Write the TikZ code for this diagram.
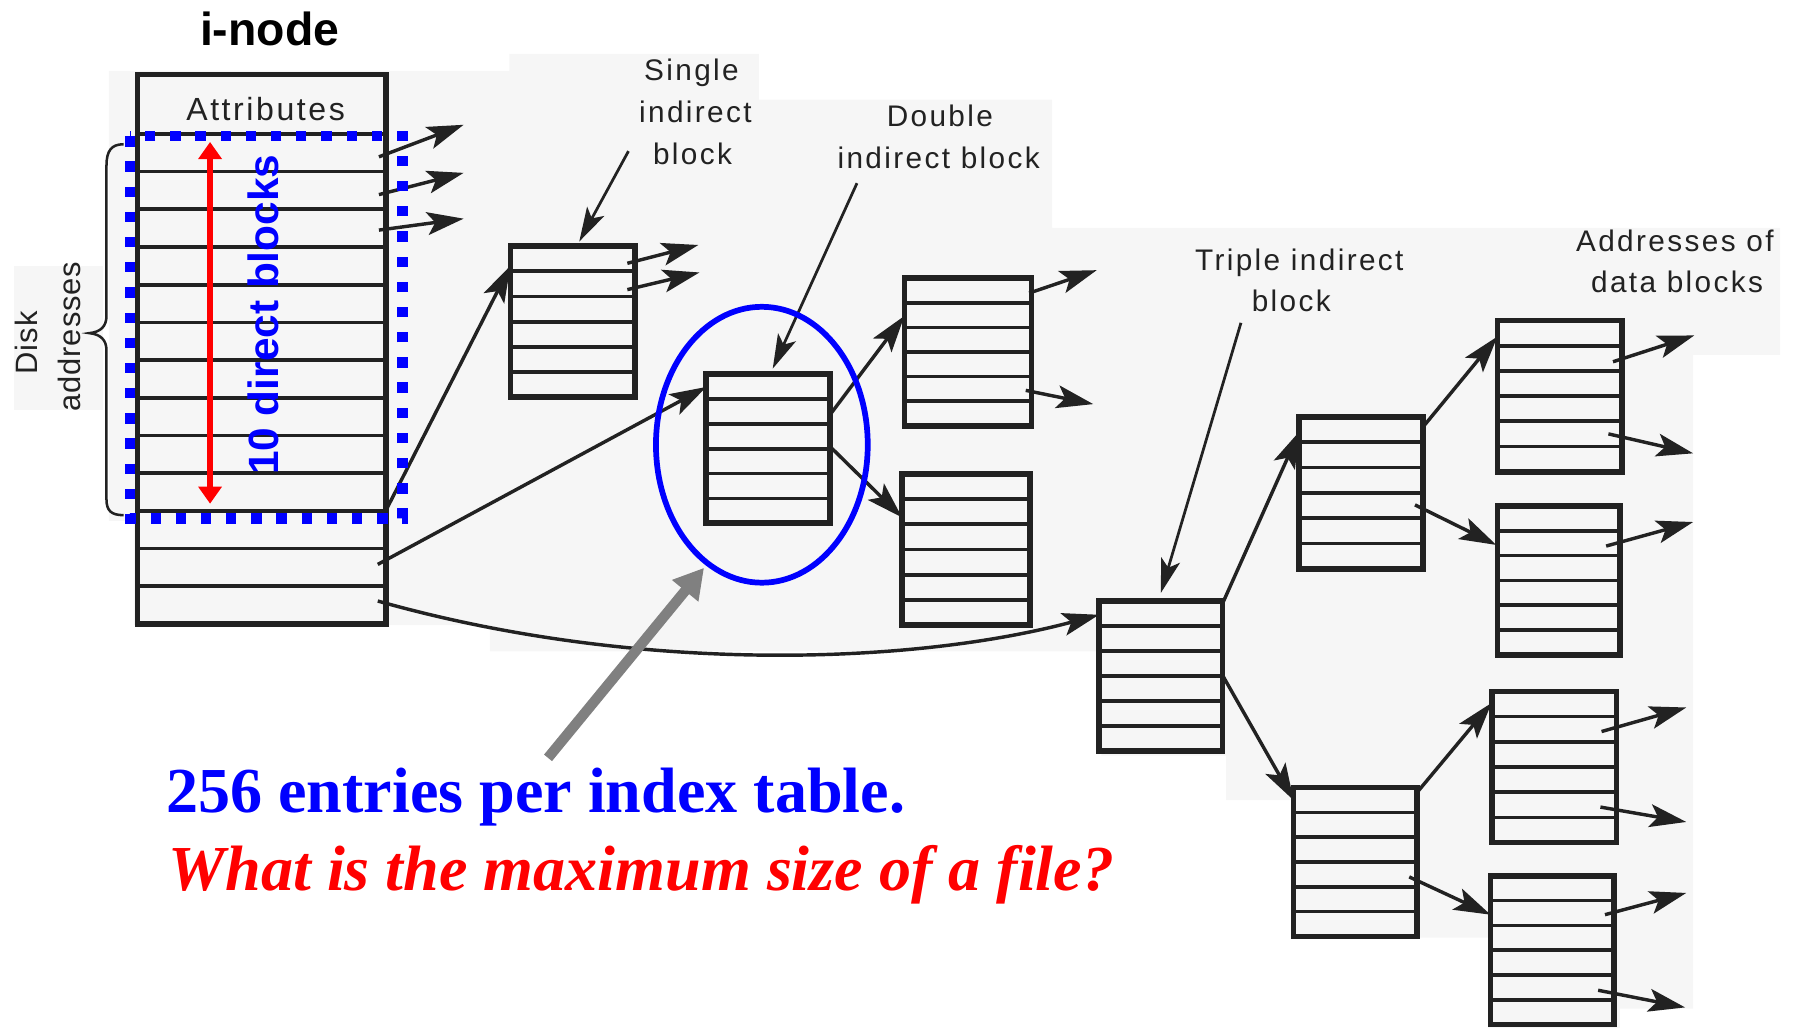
\documentclass[tikz,border=0pt]{standalone}
\usepackage{fontspec}
\setmainfont{Liberation Sans}
\newfontfamily\scanfont{Liberation Sans}[LetterSpace=8]
\newfontfamily\scanfontn{Liberation Sans}[LetterSpace=3]
\newfontfamily\tnr{Liberation Serif}
\usetikzlibrary{arrows.meta,shapes.geometric,calc}
\definecolor{ink}{HTML}{222222}
\definecolor{paper}{HTML}{F6F6F6}
\definecolor{pblue}{HTML}{0000FF}
\definecolor{pred}{HTML}{FF0000}
\definecolor{pgray}{HTML}{808080}
\tikzset{
  rowline/.style={draw=ink, line width=3.2pt},
  rows6/.style={path picture={\foreach \k in {1,...,5}{\draw[rowline] ($(path picture bounding box.north west)!\k/6!(path picture bounding box.south west)$) -- ($(path picture bounding box.north east)!\k/6!(path picture bounding box.south east)$);}}},
  blk/.style={draw=ink, line width=5pt, inner sep=0pt, outer sep=0pt, rows6},
  conn/.style={draw=ink, line width=3pt, -{Stealth[length=32pt,width=20pt,inset=7pt]}},
  lblarr/.style={draw=ink, line width=2.4pt, -{Stealth[length=30pt,width=17pt,inset=7pt]}},
  lbl/.style={font=\scanfont\fontsize{26}{30}\selectfont, text=ink, anchor=base, inner sep=0pt},
}
\begin{document}
\begin{tikzpicture}[x=1pt,y=-1pt]
\useasboundingbox (0,0) rectangle (1568,898);
% scanned paper background
\fill[paper] (95,62) -- (445,62) -- (445,47) -- (663,47) -- (663,87) -- (919,87) -- (919,199) -- (1555,199) -- (1555,310) -- (1479,310) -- (1479,881) -- (1415,881) -- (1415,898) -- (1300,898) -- (1300,819) -- (1129,819) -- (1129,699) -- (1071,699) -- (1071,660) -- (962,660) -- (962,569) -- (428,569) -- (428,546) -- (117,546) -- (117,455) -- (95,455) -- cycle;
\fill[paper] (12,232) rectangle (90,358);

% i-node
\node[font=\bfseries\fontsize{40.5}{44}\selectfont, anchor=base, inner sep=0pt] (title) at (235.5,40) {i-node};
\node[draw=ink, line width=4.8pt, inner sep=0pt, outer sep=0pt, minimum width=217pt, minimum height=480pt] (inode) at (228.5,305) {};
\foreach \k in {0,...,12}{\draw[rowline] ($(inode.north west)+(0,{52+32.92*\k})$) -- ($(inode.north east)+(0,{52+32.92*\k})$);}
\node[lbl, font=\scanfont\fontsize{28}{30}\selectfont] (attr) at (232,105.6) {Attributes};

% brace and disk addresses
\draw[ink, line width=2.2pt] (108,126) .. controls (97,126) and (93,132) .. (93,145) -- (93,276) .. controls (93,285) and (88,290) .. (78,291) .. controls (88,292) and (93,297) .. (93,306) -- (93,436) .. controls (93,446) and (97,450) .. (108,450);
\node[lbl, rotate=90, font=\scanfontn\fontsize{27}{30}\selectfont] (disk) at (33,299.5) {Disk};
\node[lbl, rotate=90, font=\scanfontn\fontsize{27}{30}\selectfont] (addr) at (70,294) {addresses};

% blocks
\node[blk, minimum width=109pt, minimum height=132pt] (sib) at (500.5,281) {};
\node[blk, minimum width=108pt, minimum height=130pt] (dib) at (671,392) {};
\node[blk, minimum width=111pt, minimum height=129pt] (d1) at (845.5,307.5) {};
\node[blk, minimum width=112pt, minimum height=132pt] (d2) at (844,480) {};
\node[blk, minimum width=108pt, minimum height=131pt] (tib) at (1014,590.5) {};
\node[blk, minimum width=108pt, minimum height=133pt] (t1) at (1189,430.5) {};
\node[blk, minimum width=108pt, minimum height=130pt] (t2) at (1184,753) {};
\node[blk, minimum width=109pt, minimum height=132pt] (ba) at (1362.5,346) {};
\node[blk, minimum width=107pt, minimum height=130pt] (bb) at (1361.5,507) {};
\node[blk, minimum width=109pt, minimum height=132pt] (bc) at (1357.5,670) {};
\node[blk, minimum width=108pt, minimum height=130pt] (bd) at (1356,830) {};

% labels
\node[lbl] (ls1) at (604,70) {Single};
\node[lbl] (ls2) at (607.5,107) {indirect};
\node[lbl] (ls3) at (605,144) {block};
\node[lbl] (ld1) at (821,110.7) {Double};
\node[lbl] (ld2) at (820,147) {indirect block};
\node[lbl] (lt1) at (1135,236) {Triple indirect};
\node[lbl] (lt2) at (1128,272) {block};
\node[lbl] (la1) at (1463,220) {Addresses of};
\node[lbl] (la2) at (1465,255.7) {data blocks};

% coordinates for connector ends
\coordinate (i1) at (331,137); \coordinate (e1) at (405,109);
\coordinate (i2) at (331,170); \coordinate (e2) at (405,151);
\coordinate (i3) at (331,201); \coordinate (e3) at (405,191);
\coordinate (i11) at (335,450); \coordinate (sibin) at (446,232);
\coordinate (i12) at (330,493); \coordinate (dibin) at (617,338);
\coordinate (i13) at (330,525); \coordinate (tibin) at (960,537);
\coordinate (so1) at (548,230); \coordinate (se1) at (610,214);
\coordinate (so2) at (548,253); \coordinate (se2) at (611,238);
\coordinate (lsa) at (549,132); \coordinate (sibtop) at (506,211);
\coordinate (lda) at (748.6,160); \coordinate (dibtop) at (675,322);
\coordinate (do1) at (726,361); \coordinate (d1in) at (790,276);
\coordinate (do2) at (725,390); \coordinate (d2in) at (788,452);
\coordinate (d1o1) at (899,256); \coordinate (d1e1) at (958,236);
\coordinate (d1o2) at (896,341); \coordinate (d1e2) at (955,353);
\coordinate (lta) at (1084,282); \coordinate (tibtop) at (1014,518);
\coordinate (to1) at (1068,527); \coordinate (t1in) at (1135,377);
\coordinate (to2) at (1068,590); \coordinate (t2in) at (1130,699);
\coordinate (t1o1) at (1243,373); \coordinate (bain) at (1308,294);
\coordinate (t1o2) at (1236,441); \coordinate (bbin) at (1307,476);
\coordinate (t2o1) at (1238,692); \coordinate (bcin) at (1303,614);
\coordinate (t2o2) at (1231,766); \coordinate (bdin) at (1302,799);
\coordinate (ao1) at (1409,316); \coordinate (ae1) at (1480,293);
\coordinate (ao2) at (1405,379); \coordinate (ae2) at (1479,396);
\coordinate (bo1) at (1403,477); \coordinate (be1) at (1479,456);
\coordinate (co1) at (1399,639); \coordinate (ce1) at (1473,618);
\coordinate (co2) at (1398,705); \coordinate (ce2) at (1473,718);
\coordinate (dd1) at (1402,799); \coordinate (de1) at (1473,780);
\coordinate (dd2) at (1396,865); \coordinate (de2) at (1472,880);

% connectors
\draw[conn] (i1) -- (e1);
\draw[conn] (i2) -- (e2);
\draw[conn] (i3) -- (e3);
\draw[conn] (i11) -- (sibin);
\draw[conn] (i12) -- (dibin);
\draw[conn] (i13) .. controls (560,590) and (800,580) .. (tibin);
\draw[conn] (so1) -- (se1);
\draw[conn] (so2) -- (se2);
\draw[lblarr] (lsa) -- (sibtop);
\draw[lblarr] (lda) -- (dibtop);
\draw[conn] (do1) -- (d1in);
\draw[conn] (do2) -- (d2in);
\draw[conn] (d1o1) -- (d1e1);
\draw[conn] (d1o2) -- (d1e2);
\draw[lblarr] (lta) -- (tibtop);
\draw[conn] (to1) -- (t1in);
\draw[conn] (to2) -- (t2in);
\draw[conn] (t1o1) -- (bain);
\draw[conn] (t1o2) -- (bbin);
\draw[conn] (t2o1) -- (bcin);
\draw[conn] (t2o2) -- (bdin);
\draw[conn] (ao1) -- (ae1);
\draw[conn] (ao2) -- (ae2);
\draw[conn] (bo1) -- (be1);
\draw[conn] (co1) -- (ce1);
\draw[conn] (co2) -- (ce2);
\draw[conn] (dd1) -- (de1);
\draw[conn] (dd2) -- (de2);

% overlays
\draw[pblue, line width=9pt, dash pattern=on 9pt off 13pt] (113.5,119) rectangle (351.6,453);
\coordinate (rt) at (183.5,124); \coordinate (rb) at (183.5,440);
\draw[pred, line width=5.8pt, {Triangle[length=15pt,width=20pt]}-{Triangle[length=15pt,width=20pt]}] (rt) -- (rb);
\node[rotate=90, anchor=base, inner sep=0pt, font=\bfseries\fontsize{37}{40}\selectfont, text=pblue] (ten) at (243,275) {10 direct blocks};
\node[draw=pblue, line width=5pt, ellipse, inner sep=0pt, minimum width=185pt, minimum height=241pt] (ell) at (665.5,388.5) {};
\coordinate (gs) at (478.7,662); \coordinate (ge) at (615,496);
\draw[pgray, line width=9pt, -{Triangle[length=26pt,width=28pt]}] (gs) -- (ge);
\node[anchor=base west, inner sep=0pt, font=\tnr\bfseries\fontsize{56}{60}\selectfont, text=pblue] (q1) at (145,710) {256 entries per index table.};
\node[anchor=base west, inner sep=0pt, font=\tnr\bfseries\itshape\fontsize{56}{60}\selectfont, text=pred] (q2) at (147,777.5) {What is the maximum size of a file?};
\end{tikzpicture}
\end{document}
